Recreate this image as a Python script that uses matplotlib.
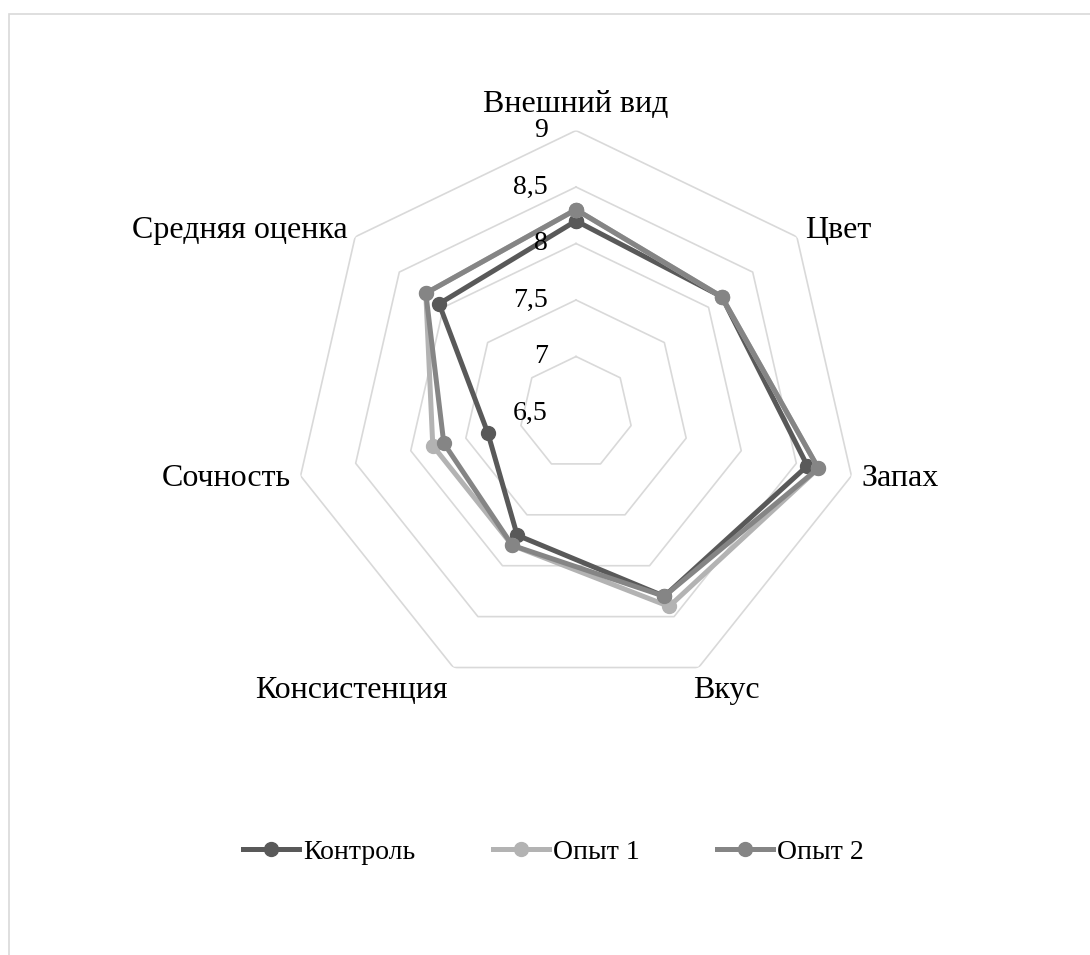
import numpy as np
import matplotlib
matplotlib.use("Agg")
import matplotlib.pyplot as plt
from matplotlib.patches import Rectangle

plt.rcParams['font.family'] = ['Liberation Serif', 'DejaVu Serif']

categories = ['Внешний вид', 'Цвет', 'Запах', 'Вкус', 'Консистенция', 'Сочность', 'Средняя оценка']
control = [8.2, 8.15, 8.6, 8.3, 7.7, 7.3, 8.05]
trial_1 = [8.3, 8.15, 8.7, 8.4, 7.8, 7.8, 8.2]
trial_2 = [8.3, 8.15, 8.7, 8.3, 7.8, 7.7, 8.2]
series_names = ['Контроль', 'Опыт 1', 'Опыт 2']
ring_values = [7, 7.5, 8, 8.5, 9]
tick_values = [6.5, 7, 7.5, 8, 8.5, 9]
tick_labels = ['6,5', '7', '7,5', '8', '8,5', '9']

colors = ['#595959', '#b3b3b3', '#858585']

fig = plt.figure(figsize=(10.9, 9.55), dpi=100)

# chart area border (runs off the right and bottom edges)
fig.patches.append(Rectangle((9 / 1090, -0.05), 1.2, 1 - 14 / 955 + 0.05,
                             transform=fig.transFigure, fill=False,
                             edgecolor='#d9d9d9', linewidth=1.2))

cx, cy, R = 576 / 1090, 1 - 413 / 955, 282.5
w, h = 2 * R / 1090, 2 * R / 955
ax = fig.add_axes([cx - w / 2, cy - h / 2, w, h], projection='polar')
ax.set_theta_offset(np.pi / 2)
ax.set_theta_direction(-1)
ax.set_ylim(6.5, 9)
ax.grid(False)
ax.spines['polar'].set_visible(False)
ax.set_xticks([])
ax.set_yticks([])
ax.patch.set_alpha(0)

n = len(categories)
angles = np.arange(n) * 2 * np.pi / n
closed = np.append(angles, angles[0])

# heptagon grid
for rv in ring_values:
    ax.plot(closed, [rv] * (n + 1), color='#d9d9d9', lw=1.2, zorder=1)

for name, vals, c in zip(series_names, [control, trial_1, trial_2], colors):
    ax.plot(closed, vals + vals[:1], color=c, lw=3.6, marker='o',
            markersize=10, label=name, zorder=3)

# radial value labels
for tv, tl in zip(tick_values, tick_labels):
    ax.annotate(tl, xy=(0, tv), xytext=(-28, 0), textcoords='offset pixels',
                ha='right', va='center', fontsize=20, zorder=5)

# category labels
for ang, lab in zip(angles, categories):
    vis = np.pi / 2 - ang
    dx, dy = np.cos(vis), np.sin(vis)
    if abs(dx) < 0.1:
        ha = 'center'
    else:
        ha = 'left' if dx > 0 else 'right'
    if dy > 0.9:
        va, off = 'bottom', (0, 12)
    elif dy < -0.5:
        va, off = 'top', (-6, -8)
    else:
        va, off = 'center', (10 * dx, 10 * dy)
    ax.annotate(lab, xy=(ang, 9), xytext=off, textcoords='offset pixels',
                ha=ha, va=va, fontsize=23, annotation_clip=False)

handles, labels = ax.get_legend_handles_labels()
fig.legend(handles, labels, loc='center', bbox_to_anchor=(0.508, 1 - 852 / 955),
           ncol=3, frameon=False, fontsize=20, handlelength=2.0,
           handletextpad=0.15, columnspacing=2.8)

fig.savefig('out.png', dpi=100)
